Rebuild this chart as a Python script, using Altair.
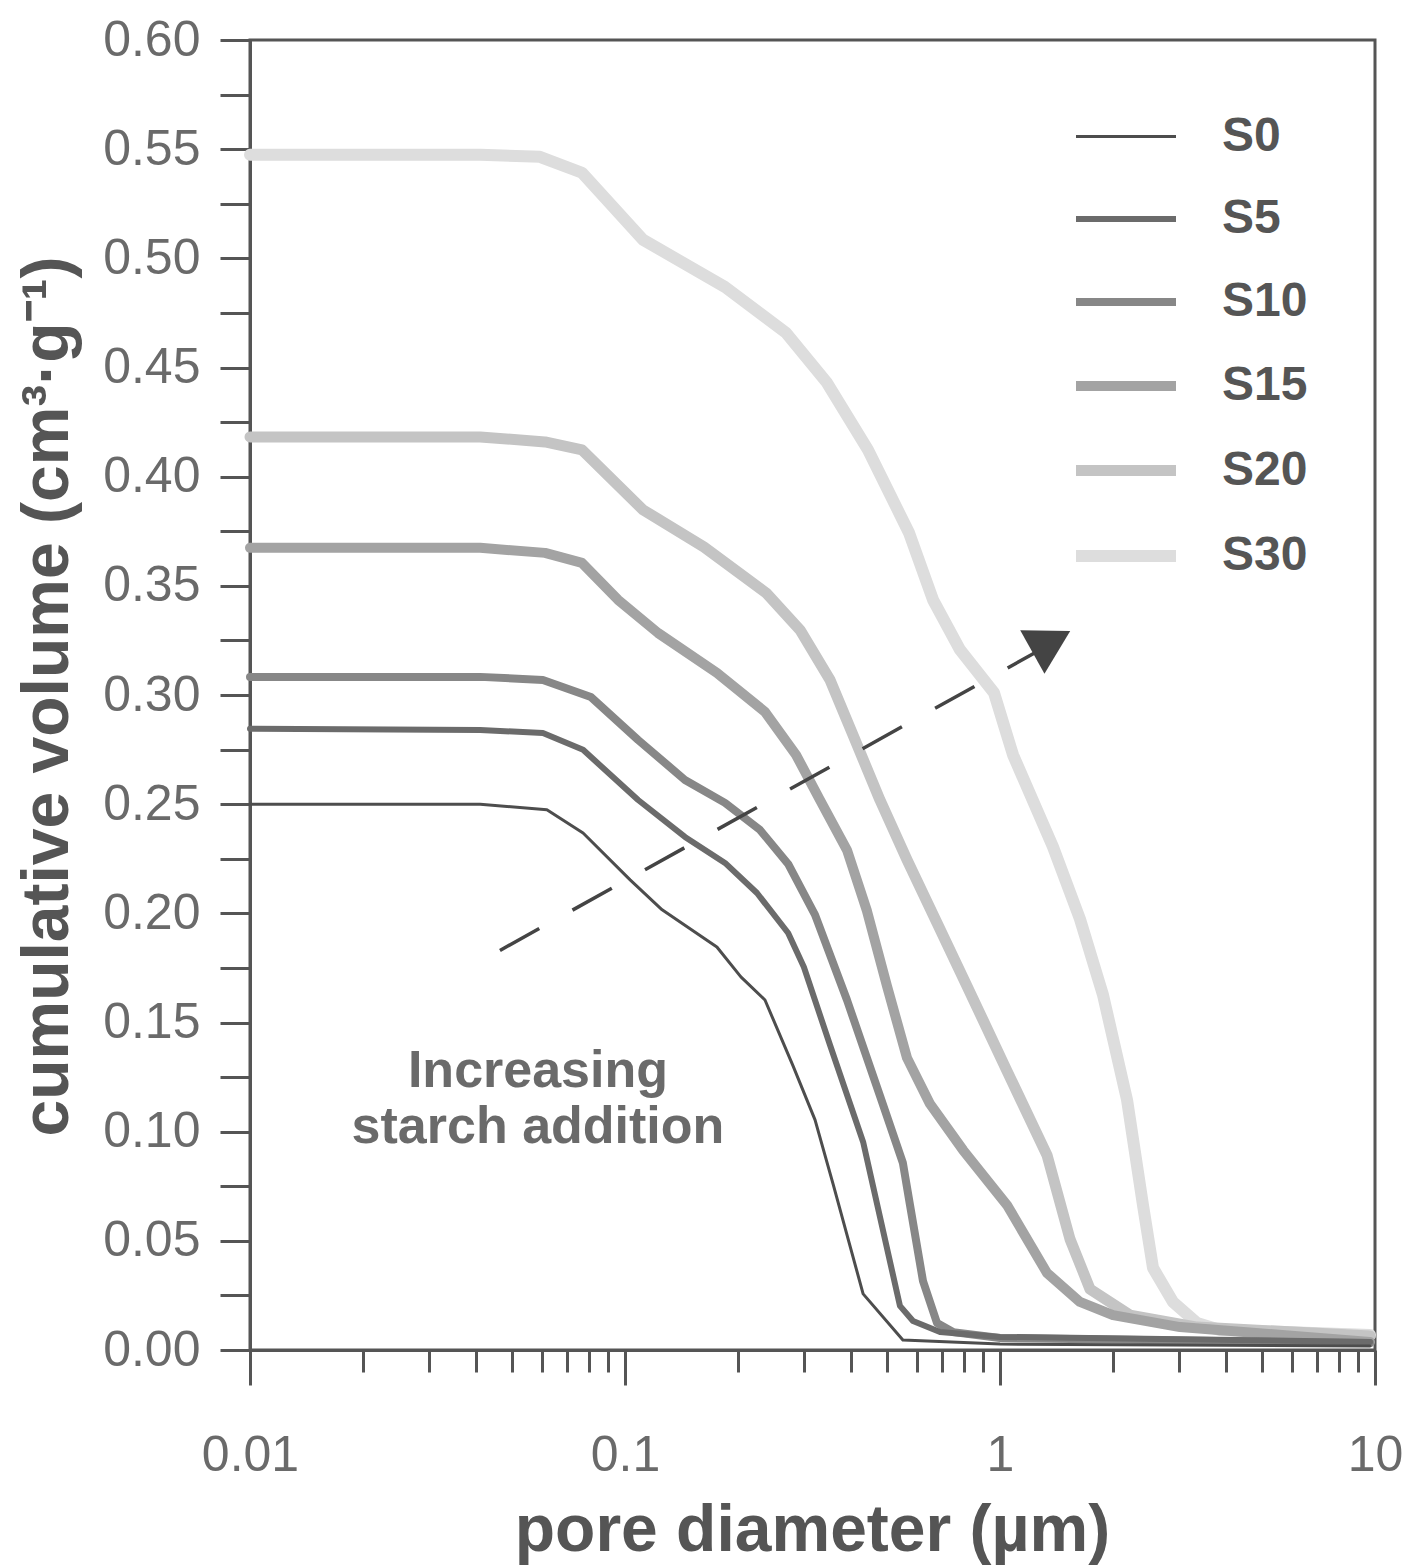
import altair as alt
import pandas as pd

series_names = ["S0", "S5", "S10", "S15", "S20", "S30"]
series_colors = ["#4d4d4d", "#6b6b6b", "#878787", "#a3a3a3", "#c4c4c4", "#dddddd"]
series_widths = [3, 6, 8, 10, 11, 12]

s0_d = [0.01, 0.0411, 0.0619, 0.0773, 0.1032, 0.1256, 0.1758, 0.2037, 0.2362, 0.2806, 0.3212, 0.3589, 0.4315, 0.5508, 1.0, 9.7]
s0_v = [0.250, 0.250, 0.2474, 0.2368, 0.2153, 0.2016, 0.1846, 0.1709, 0.1603, 0.1301, 0.1054, 0.0760, 0.0257, 0.0046, 0.0027, 0.0018]

s5_d = [0.01, 0.0411, 0.0604, 0.0773, 0.1084, 0.1445, 0.1848, 0.2249, 0.2723, 0.2999, 0.3521, 0.4315, 0.541, 0.5861, 0.692, 1.0, 9.7]
s5_v = [0.2845, 0.284, 0.2826, 0.2749, 0.2519, 0.235, 0.2231, 0.2093, 0.191, 0.1754, 0.1397, 0.0953, 0.0202, 0.0133, 0.0082, 0.006, 0.0037]

s10_d = [0.01, 0.0411, 0.0604, 0.0811, 0.1084, 0.1445, 0.1848, 0.2291, 0.2723, 0.3212, 0.3908, 0.4786, 0.5508, 0.5754, 0.6232, 0.6792, 0.7496, 1.0, 9.7]
s10_v = [0.3083, 0.3083, 0.3069, 0.2991, 0.2794, 0.2611, 0.2506, 0.2382, 0.2226, 0.1993, 0.1603, 0.1164, 0.0857, 0.0664, 0.0316, 0.0124, 0.0082, 0.0055, 0.0032]

s15_d = [0.01, 0.0411, 0.0612, 0.0768, 0.0958, 0.1225, 0.1758, 0.2362, 0.2858, 0.3311, 0.3908, 0.4418, 0.4996, 0.5649, 0.6507, 0.7969, 1.0439, 1.3345, 1.6339, 2.0012, 3.02, 9.7]
s15_v = [0.3674, 0.3674, 0.3651, 0.3605, 0.3436, 0.3284, 0.3101, 0.2923, 0.2726, 0.2519, 0.229, 0.2011, 0.1667, 0.1338, 0.1127, 0.0916, 0.0664, 0.0353, 0.022, 0.016, 0.0105, 0.0037]

s20_d = [0.01, 0.0411, 0.0612, 0.0768, 0.1117, 0.1624, 0.2377, 0.2929, 0.3521, 0.4106, 0.4786, 0.5649, 0.6792, 0.8166, 1.0439, 1.3345, 1.537, 1.7378, 2.2223, 3.3528, 9.7]
s20_v = [0.4182, 0.4182, 0.4159, 0.4123, 0.3848, 0.3678, 0.3468, 0.3298, 0.3069, 0.2794, 0.2519, 0.2245, 0.1956, 0.1667, 0.1278, 0.0893, 0.0508, 0.0279, 0.016, 0.0105, 0.0064]

s30_d = [0.01, 0.0411, 0.0593, 0.0768, 0.1117, 0.1848, 0.2687, 0.3457, 0.4446, 0.5719, 0.6628, 0.7824, 0.9638, 1.0831, 1.3846, 1.6339, 1.8825, 2.1818, 2.4059, 2.5586, 2.8929, 3.3528, 3.8612, 9.7]
s30_v = [0.5474, 0.5474, 0.5465, 0.5392, 0.5085, 0.4869, 0.4659, 0.443, 0.4123, 0.3743, 0.3436, 0.3207, 0.301, 0.2726, 0.2304, 0.1974, 0.1626, 0.1145, 0.0664, 0.0376, 0.022, 0.0124, 0.0092, 0.0069]

all_d = [s0_d, s5_d, s10_d, s15_d, s20_d, s30_d]
all_v = [s0_v, s5_v, s10_v, s15_v, s20_v, s30_v]

# arrow annotation (data coordinates)
arrow_start = (0.0464, 0.183)
arrow_end = (1.278, 0.3206)
arrow_head = (1.37, 0.3245)
annot_lines = ["Increasing", "starch addition"]
annot_d = [0.0586, 0.0586]
annot_v = [0.128, 0.102]

x_tick_values = [m * 10.0 ** e for e in range(-2, 1) for m in range(1, 10)] + [10.0]
y_tick_values = [round(i * 0.025, 3) for i in range(25)]

rows = []
for name, ds, vs in reversed(list(zip(series_names, all_d, all_v))):
    for i, (d, v) in enumerate(zip(ds, vs)):
        rows.append({"series": name, "d": d, "v": v, "i": i})
df = pd.DataFrame(rows)

FONT = "Liberation Sans"
AX = "#555555"
major_test = "abs(log(datum.value)/LN10 - round(log(datum.value)/LN10)) < 0.001"

xscale = alt.Scale(type="log", domain=[0.01, 10], nice=False)
yscale = alt.Scale(domain=[0, 0.6], nice=False, zero=False)

x_axis = alt.Axis(
    values=x_tick_values,
    labelExpr=f"({major_test}) ? format(datum.value, '~g') : ''",
    tickSize={"condition": {"test": major_test, "value": 35}, "value": 22},
    tickWidth=3, tickColor=AX, domainColor=AX, domainWidth=3,
    labelFont=FONT, labelFontSize=50, labelColor="#6a6a6a", labelPadding=45,
    labelFlush=False, labelOverlap=False, labelBound=False, grid=False,
    title="pore diameter (µm)", titleFont=FONT, titleFontSize=66, titleFontWeight="bold",
    titleColor=AX, titleX=562, titleY=200, titleBaseline="alphabetic", titleAlign="center",
)
y_axis = alt.Axis(
    values=y_tick_values,
    labelExpr="abs(datum.value*20 - round(datum.value*20)) < 0.001 ? format(datum.value, '.2f') : ''",
    tickSize=30, tickWidth=3, tickColor=AX, domainColor=AX, domainWidth=3,
    labelFont=FONT, labelFontSize=50, labelColor="#6a6a6a", labelPadding=20,
    labelFlush=False, labelOverlap=False, labelBound=False, grid=False,
    title="cumulative volume (cm³·g⁻¹)", titleFont=FONT, titleFontSize=66, titleFontWeight="bold",
    titleColor=AX, titleAngle=270, titleX=-183, titleY=656, titleBaseline="alphabetic", titleAlign="center",
)

legend = alt.Legend(
    orient="none", legendX=820, legendY=45, title=None,
    symbolType="stroke", symbolSize=10000,
    labelFont=FONT, labelFontSize=48, labelFontWeight="bold", labelColor=AX,
    labelOffset=40, rowPadding=5, padding=0,
)

lines = alt.Chart(df).mark_line(strokeJoin="round", strokeCap="round").encode(
    x=alt.X("d:Q", scale=xscale, axis=x_axis),
    y=alt.Y("v:Q", scale=yscale, axis=y_axis),
    color=alt.Color("series:N", scale=alt.Scale(type="ordinal", domain=series_names, range=series_colors), legend=legend),
    strokeWidth=alt.StrokeWidth("series:N", scale=alt.Scale(type="ordinal", domain=series_names, range=series_widths), legend=legend),
    detail="series:N",
    order="i:Q",
)

arrow_df = pd.DataFrame([{"d": arrow_start[0], "v": arrow_start[1], "d2": arrow_end[0], "v2": arrow_end[1]}])
arrow = alt.Chart(arrow_df).mark_rule(color="#444444", strokeWidth=3.5, strokeDash=[45, 38]).encode(
    x=alt.X("d:Q", scale=xscale), y=alt.Y("v:Q", scale=yscale), x2="d2:Q", y2="v2:Q"
)
head_df = pd.DataFrame([{"d": arrow_head[0], "v": arrow_head[1]}])
head = alt.Chart(head_df).mark_point(shape="triangle-up", filled=True, color="#444444", opacity=1, size=2500, angle=61).encode(
    x=alt.X("d:Q", scale=xscale), y=alt.Y("v:Q", scale=yscale)
)
annot_df = pd.DataFrame({"t": annot_lines, "d": annot_d, "v": annot_v})
annot = alt.Chart(annot_df).mark_text(font=FONT, fontSize=52, fontWeight="bold", color="#6a6a6a", align="center", baseline="middle").encode(
    x=alt.X("d:Q", scale=xscale), y=alt.Y("v:Q", scale=yscale), text="t:N"
)

chart = alt.layer(lines, arrow, head, annot).properties(
    width=1125, height=1310,
    autosize=alt.AutoSizeParams(type="none"),
    padding={"left": 250, "top": 40, "right": 35, "bottom": 215},
    background="white",
).configure_view(stroke=AX, strokeWidth=3)

chart.save("out.html", embed_options={"renderer": "svg", "actions": False})
